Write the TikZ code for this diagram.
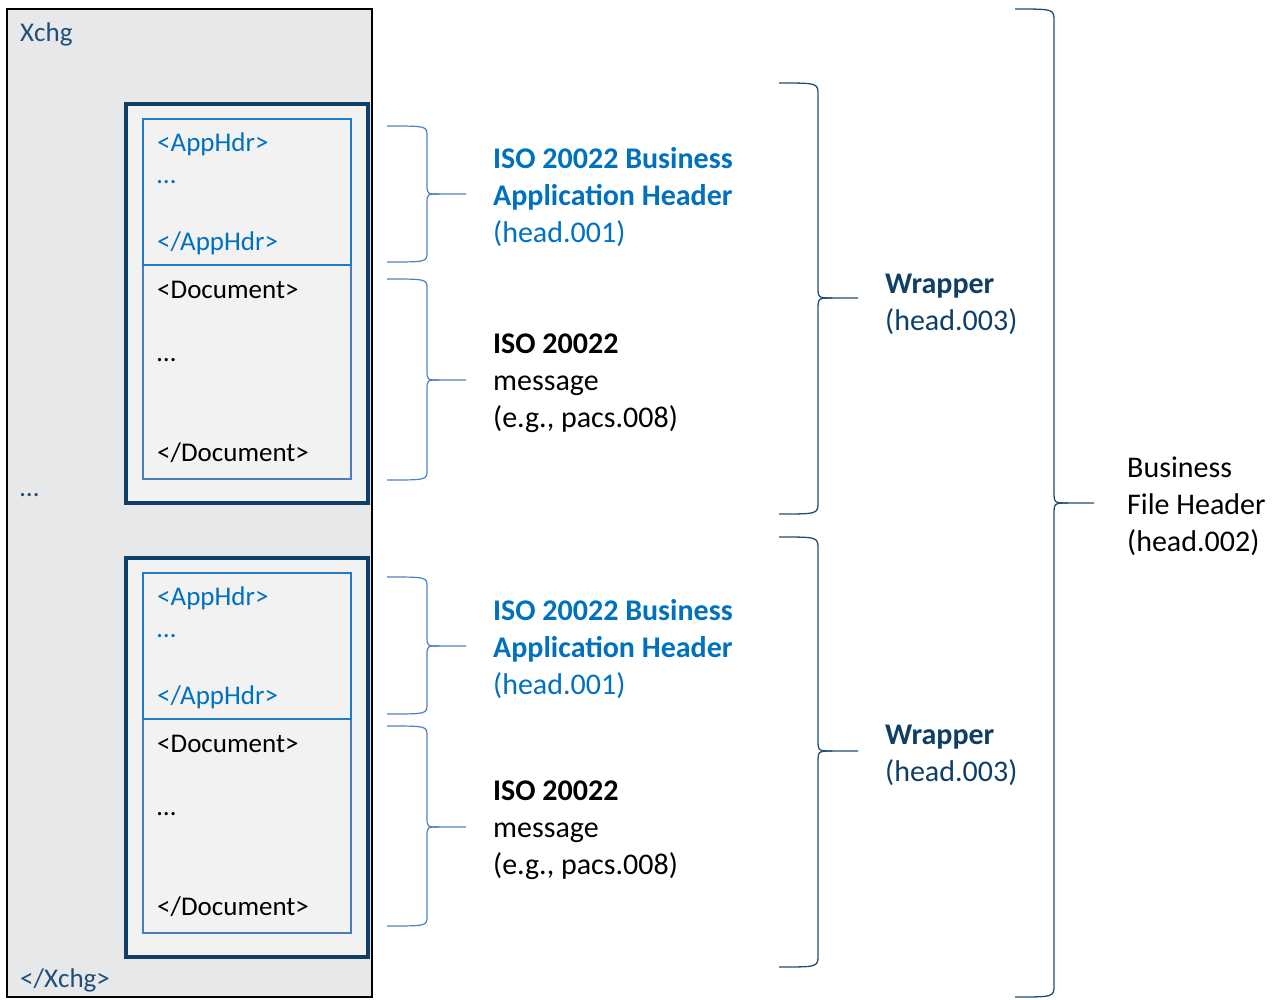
\documentclass[tikz,border=0pt]{standalone}
\usepackage{fontspec}
\setmainfont{Carlito}
\definecolor{outerfill}{HTML}{E7E8EA}
\definecolor{innerfill}{HTML}{F2F2F2}
\definecolor{navy}{HTML}{0F3F66}
\definecolor{xnavy}{HTML}{1F4E79}
\definecolor{appblue}{HTML}{1F7BC4}
\definecolor{docblue}{HTML}{4A7EBB}
\definecolor{txtblue}{HTML}{0070C0}
\definecolor{brsmall}{HTML}{4F81BD}
\definecolor{brbig}{HTML}{1F4E79}
\newcommand\curlybr[8]{% style, x0, xv, xt, y0, ym, y1, r
  \draw[#1] (#2,#5) .. controls (#3,#5) .. (#3,#5+#8) -- (#3,#6-#8)
    .. controls (#3,#6) .. (#3+1.2*#8,#6) -- (#4,#6);
  \draw[#1] (#3+1.2*#8,#6) .. controls (#3,#6) .. (#3,#6+#8) -- (#3,#7-#8)
    .. controls (#3,#7) .. (#2,#7);
}
\begin{document}
\begin{tikzpicture}[x=1pt,y=-1pt,
  lt/.style={anchor=base west, inner sep=0, font=\fontsize{27}{33}\selectfont},
  rt/.style={anchor=base west, inner sep=0, font=\fontsize{30}{37}\selectfont},
  outerbox/.style={draw=black, line width=2.5, fill=outerfill},
  wrapbox/.style={draw=navy, line width=3.5, fill=innerfill},
  appbox/.style={draw=appblue, line width=2},
  docbox/.style={draw=docblue, line width=2},
  sbrace/.style={draw=brsmall, line width=1.2},
  bbrace/.style={draw=brbig, line width=1.3}]
\useasboundingbox (0,0) rectangle (1277,999);

% outer Xchg box
\path[outerbox] (7,9) rectangle (372,997);
\node[lt, text=xnavy] (xchg) at (20,41) {Xchg};
\node[lt, text=xnavy] (xdots) at (20,496) {…};
\node[lt, text=xnavy] (xend) at (20,987) {</Xchg>};

% wrapper 1
\path[wrapbox] (126,104) rectangle (368,503);
\path[docbox] (143,265) rectangle (351,479);
\path[appbox] (143,119) rectangle (351,265);
\node[lt, text=txtblue] (a1) at (157,151) {<AppHdr>};
\node[lt, text=txtblue] (a1d) at (157,183) {…};
\node[lt, text=txtblue] (a1e) at (157,250) {</AppHdr>};
\node[lt] (d1) at (157,298) {<Document>};
\node[lt] (d1d) at (157,361) {…};
\node[lt] (d1e) at (157,461) {</Document>};

% wrapper 2
\path[wrapbox] (126,558) rectangle (368,957);
\path[docbox] (143,719) rectangle (351,933);
\path[appbox] (143,573) rectangle (351,719);
\node[lt, text=txtblue] (a2) at (157,605) {<AppHdr>};
\node[lt, text=txtblue] (a2d) at (157,637) {…};
\node[lt, text=txtblue] (a2e) at (157,704) {</AppHdr>};
\node[lt] (d2) at (157,752) {<Document>};
\node[lt] (d2d) at (157,815) {…};
\node[lt] (d2e) at (157,915) {</Document>};

% small braces
\curlybr{sbrace}{387}{427}{466}{126}{194}{262}{10}
\curlybr{sbrace}{387}{427}{466}{279}{380}{480}{10}
\curlybr{sbrace}{387}{427}{466}{577}{646}{714}{10}
\curlybr{sbrace}{387}{427}{466}{726}{827}{926}{10}

% wrapper braces
\curlybr{bbrace}{779}{818}{858}{83}{298}{514}{12}
\curlybr{bbrace}{779}{818}{858}{537}{751}{967}{12}

% business file header brace
\curlybr{bbrace}{1015}{1054}{1094}{9}{503}{997}{12}

% labels group 1
\node[rt, text=txtblue, font=\fontsize{30}{37}\selectfont\bfseries] (h1a) at (493,168) {ISO 20022 Business};
\node[rt, text=txtblue, font=\fontsize{30}{37}\selectfont\bfseries] (h1b) at (493,205) {Application Header};
\node[rt, text=txtblue] (h1c) at (493,242) {(head.001)};
\node[rt, font=\fontsize{30}{37}\selectfont\bfseries] (m1a) at (493,353) {ISO 20022};
\node[rt] (m1b) at (493,390) {message};
\node[rt] (m1c) at (493,427) {(e.g., pacs.008)};

% labels group 2
\node[rt, text=txtblue, font=\fontsize{30}{37}\selectfont\bfseries] (h2a) at (493,620) {ISO 20022 Business};
\node[rt, text=txtblue, font=\fontsize{30}{37}\selectfont\bfseries] (h2b) at (493,657) {Application Header};
\node[rt, text=txtblue] (h2c) at (493,694) {(head.001)};
\node[rt, font=\fontsize{30}{37}\selectfont\bfseries] (m2a) at (493,800) {ISO 20022};
\node[rt] (m2b) at (493,837) {message};
\node[rt] (m2c) at (493,874) {(e.g., pacs.008)};

% wrapper labels
\node[rt, text=navy, font=\fontsize{30}{37}\selectfont\bfseries] (w1a) at (885,293) {Wrapper};
\node[rt, text=navy] (w1b) at (885,330) {(head.003)};
\node[rt, text=navy, font=\fontsize{30}{37}\selectfont\bfseries] (w2a) at (885,744) {Wrapper};
\node[rt, text=navy] (w2b) at (885,781) {(head.003)};

% business file header label
\node[rt] (b1) at (1127,477) {Business};
\node[rt] (b2) at (1127,514) {File Header};
\node[rt] (b3) at (1127,551) {(head.002)};
\end{tikzpicture}
\end{document}
